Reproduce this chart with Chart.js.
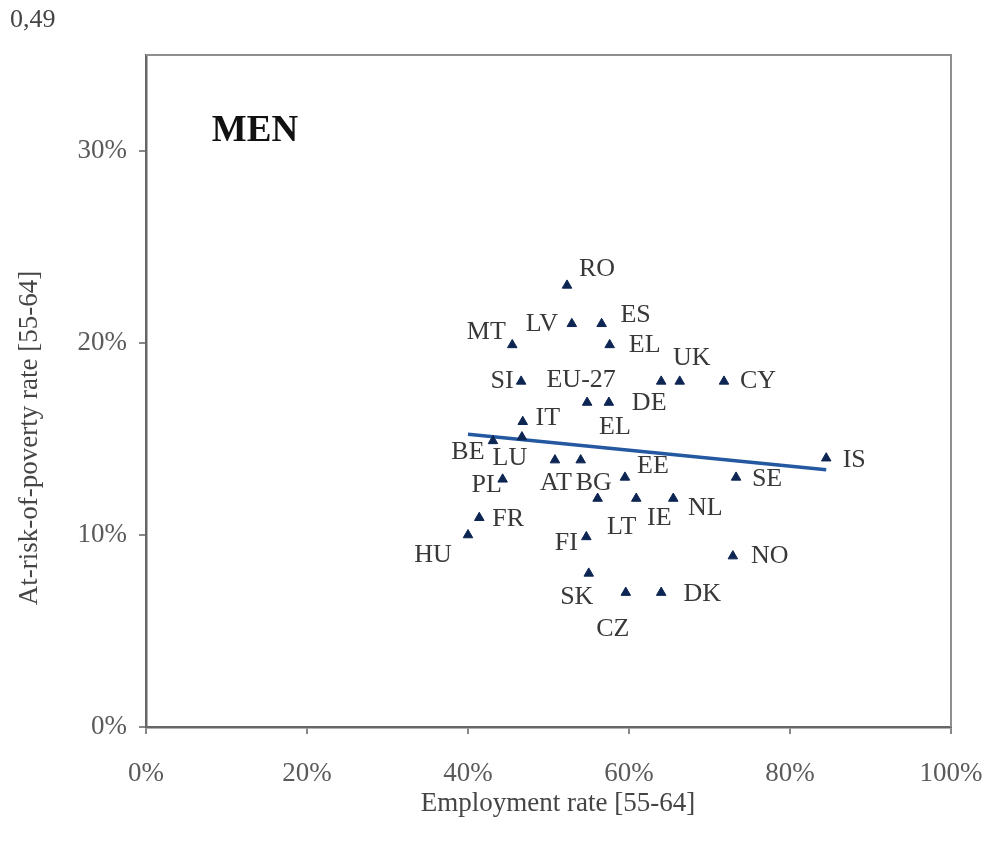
<!DOCTYPE html>
<html>
<head>
<meta charset="utf-8">
<script src="https://cdn.jsdelivr.net/npm/chart.js@4/dist/chart.umd.min.js"></script>
<style>
  html, body { margin: 0; padding: 0; background: #fff; }
  #wrap { width: 988px; height: 849px; position: relative; }
</style>
</head>
<body>
<div id="wrap"><canvas id="menChart" width="988" height="849"></canvas></div>
<script>
// Pays (étiquettes) et valeurs
const paises = ['RO', 'LV', 'ES', 'MT', 'EL', 'SI', 'EU-27', 'EL', 'DE', 'UK', 'CY', 'IT', 'BE', 'LU', 'AT', 'BG', 'EE', 'IS', 'PL', 'SE', 'LT', 'IE', 'NL', 'FR', 'HU', 'FI', 'NO', 'SK', 'CZ', 'DK'];
const tauxEmploi = [52.3, 52.9, 56.6, 45.5, 57.6, 46.6, 54.8, 57.5, 64.0, 66.3, 71.8, 46.8, 43.1, 46.7, 50.8, 54.0, 59.5, 84.5, 44.3, 73.3, 56.1, 60.9, 65.5, 41.4, 40.0, 54.7, 72.9, 55.0, 59.6, 64.0];
const tauxPauvrete = [23.0, 21.0, 21.0, 19.9, 19.9, 18.0, 16.9, 16.9, 18.0, 18.0, 18.0, 15.9, 14.9, 15.1, 13.9, 13.9, 13.0, 14.0, 12.9, 13.0, 11.9, 11.9, 11.9, 10.9, 10.0, 9.9, 8.9, 8.0, 7.0, 7.0];

// Droite de tendance (extrémités)
const tendanceX = [40.0, 84.5];
const tendanceY = [15.25, 13.4];

const ticksY = [0, 10, 20, 30];
const ticksX = [0, 20, 40, 60, 80, 100];

// Décalage des étiquettes en pixels par rapport au point
const decalages = [
    [30, -16], [-30, 0], [34, -9], [-26, -13], [35, 0], [-19, 0], [-6, -22], [6, 25], [-12, 22], [12, -23],
    [34, 0], [25, -4], [-25, 11], [-12, 21], [1, 23], [13, 23], [28, -11], [28, 2], [-16, 6], [31, 2],
    [24, 29], [23, 20], [32, 10], [29, 1], [-35, 20], [-20, 6], [37, 0], [-12, 24], [-13, 37], [41, 2]
];

const SERIF = '"Liberation Serif", "DejaVu Serif", serif';

const pontos = tauxEmploi.map((x, i) => ({ x: x, y: tauxPauvrete[i] }));
const linha = tendanceX.map((x, i) => ({ x: x, y: tendanceY[i] }));

// Cadre, étiquettes et titres
const pluginDecor = {
    id: 'decor',
    afterDatasetsDraw(chart) {
        const ctx = chart.ctx;
        const area = chart.chartArea;
        ctx.save();
        // haut et droite du cadre
        ctx.strokeStyle = '#8f8f8f';
        ctx.lineWidth = 2;
        ctx.beginPath();
        ctx.moveTo(area.left, area.top);
        ctx.lineTo(area.right, area.top);
        ctx.lineTo(area.right, area.bottom);
        ctx.stroke();

        // étiquettes des pays
        const meta = chart.getDatasetMeta(0);
        ctx.font = '26px ' + SERIF;
        ctx.fillStyle = '#383838';
        ctx.textAlign = 'center';
        ctx.textBaseline = 'middle';
        meta.data.forEach((pt, i) => {
            const d = decalages[i];
            ctx.fillText(paises[i], pt.x + d[0], pt.y + d[1]);
        });

        // MEN
        ctx.font = 'bold 37px ' + SERIF;
        ctx.fillStyle = '#111111';
        ctx.fillText('MEN', 255, 131);

        // 0,49
        ctx.font = '26px ' + SERIF;
        ctx.fillStyle = '#444444';
        ctx.textAlign = 'left';
        ctx.fillText('0,49', 10, 20);

        // titres des axes
        ctx.font = '27px ' + SERIF;
        ctx.fillStyle = '#454545';
        ctx.textAlign = 'center';
        ctx.fillText('Employment rate [55-64]', 558, 804);
        ctx.translate(30, 438);
        ctx.rotate(-Math.PI / 2);
        ctx.fillText('At-risk-of-poverty rate [55-64]', 0, 0);
        ctx.restore();
    }
};

const ctxMen = document.getElementById('menChart').getContext('2d');
new Chart(ctxMen, {
    type: 'scatter',
    data: {
        datasets: [{
            label: 'Pays',
            data: pontos,
            pointStyle: 'triangle',
            pointRadius: 5.5,
            backgroundColor: '#0c2552',
            borderColor: '#0c2552',
            borderWidth: 1
        }, {
            label: 'Tendance',
            data: linha,
            showLine: true,
            pointRadius: 0,
            borderColor: '#2458a0',
            borderWidth: 3.5,
            fill: false
        }]
    },
    options: {
        responsive: false,
        animation: false,
        layout: { padding: { top: 55, right: 37, left: 0, bottom: 0 } },
        scales: {
            x: {
                type: 'linear',
                min: 0,
                max: 100,
                afterFit: (s) => { s.height = 122; s.paddingLeft = 0; s.paddingRight = 0; },
                afterBuildTicks: (s) => { s.ticks = ticksX.map(v => ({ value: v })); },
                border: { color: '#666666', width: 2.5 },
                grid: { drawOnChartArea: false, drawTicks: true, tickLength: 7, color: '#888888', lineWidth: 2 },
                ticks: {
                    padding: 24,
                    color: '#5a5a5a',
                    font: { family: SERIF, size: 27 },
                    maxRotation: 0,
                    callback: (v) => v + '%'
                }
            },
            y: {
                type: 'linear',
                min: 0,
                max: 35,
                afterFit: (s) => { s.width = 146; s.paddingTop = 0; s.paddingBottom = 0; },
                afterBuildTicks: (s) => { s.ticks = ticksY.map(v => ({ value: v })); },
                border: { color: '#666666', width: 2.5 },
                grid: { drawOnChartArea: false, drawTicks: true, tickLength: 7, color: '#888888', lineWidth: 2 },
                ticks: {
                    padding: 12,
                    color: '#5a5a5a',
                    font: { family: SERIF, size: 27 },
                    callback: (v) => v + '%'
                }
            }
        },
        plugins: {
            legend: { display: false },
            tooltip: { enabled: false }
        }
    },
    plugins: [pluginDecor]
});
</script>
</body>
</html>
